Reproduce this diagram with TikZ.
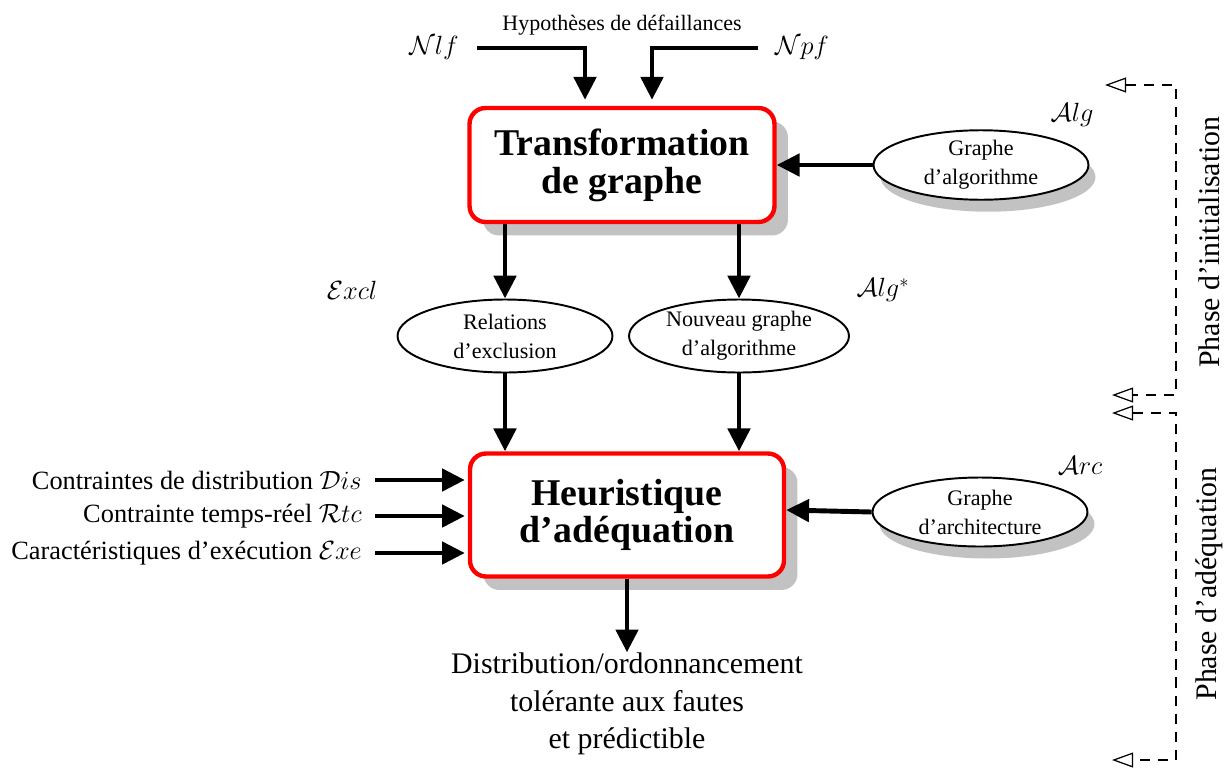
\RequirePackage{fix-cm}
\documentclass[tikz,border=0pt]{standalone}
\usepackage{amsmath}
\usepackage{amssymb}
\usepackage{fontspec}
\setmainfont{Liberation Serif}
\usetikzlibrary{arrows.meta,shapes.geometric,shadows}

\definecolor{ombregris}{gray}{0.76}

\begin{document}
\begin{tikzpicture}[x=0.02cm,y=-0.02cm,
  every node/.style={inner sep=0pt},
  bloc/.style={draw=red, line width=2.5pt, rounded corners=0.32cm, fill=white,
    align=center, font=\fontsize{21.5}{21.5}\selectfont\bfseries,
    general shadow={fill=ombregris, shadow xshift=0.27cm, shadow yshift=-0.27cm}},
  donnee/.style={ellipse, draw, line width=1.1pt, fill=white, minimum width=4.3cm,
    minimum height=1.46cm, align=center, font=\fontsize{12.6}{16.5}\selectfont},
  ombre/.style={general shadow={fill=ombregris, shadow xshift=0.14cm, shadow yshift=-0.24cm}},
  fleche/.style={line width=2.8pt, -{Triangle[length=13pt,width=12.5pt]}},
  phase/.style={line width=1.3pt, dash pattern=on 5.8pt off 4.5pt,
    {Triangle[open,line width=0.7pt,length=12pt,width=8.5pt]}-{Triangle[open,line width=0.7pt,length=12pt,width=8.5pt]}},
  lbl/.style={font=\fontsize{15}{18}\selectfont},
  grand/.style={font=\fontsize{17}{21.5}\selectfont}]

\useasboundingbox (0,0) rectangle (1226,771);

% les deux blocs
\node[bloc, minimum width=6.1cm, minimum height=2.28cm] (trans) at (622,165) {Transformation\\de graphe};
\node[bloc, minimum width=6.28cm, minimum height=2.46cm] (heur) at (627,515) {Heuristique\\d'ad\'equation};

% les graphes
\node[donnee, ombre, minimum height=1.38cm] (alg) at (981,165) {Graphe\\d'algorithme};
\node[donnee] (excl) at (505,336) {Relations\\d'exclusion};
\node[donnee, minimum width=4.4cm] (nalg) at (739,336) {Nouveau graphe\\d'algorithme};
\node[donnee, ombre, minimum height=1.38cm] (arc) at (980,512) {Graphe\\d'architecture};

\node[lbl] (lalg) at (1072,115) {$\mathcal{A}lg$};
\node[lbl] (larc) at (1080,465) {$\mathcal{A}rc$};
\node[lbl] (lexcl) at (352,290) {$\mathcal{E}xcl$};
\node[lbl] (lnalg) at (883,290) {$\mathcal{A}lg^*$};

% hypotheses
\node[font=\fontsize{12.5}{15}\selectfont] (hyp) at (622,25) {Hypoth\`eses de d\'efaillances};
\node[lbl] (nlf) at (434,48) {$\mathcal{N}lf$};
\node[lbl] (npf) at (802,48) {$\mathcal{N}pf$};

\draw[fleche, shorten <=0.36cm, shorten >=0.12cm] (nlf.east) -| ([xshift=-0.74cm]trans.north);
\draw[fleche, shorten <=0.34cm, shorten >=0.12cm] (npf.west) -| ([xshift=0.6cm]trans.north);

% contraintes
\node[lbl, anchor=east] (dis) at (362,480) {Contraintes de distribution $\mathcal{D}is$};
\node[lbl, anchor=east] (rtc) at (362,516) {Contrainte temps-r\'eel $\mathcal{R}tc$};
\node[lbl, anchor=east] (exe) at (362,553) {Caract\'eristiques d'ex\'ecution $\mathcal{E}xe$};

\foreach \c in {dis,rtc,exe}
    \draw[fleche, shorten <=0.26cm, shorten >=0.06cm] (\c.east) -- (\c.east -| heur.west);

% fleches
\draw[fleche] (alg.west) -- (alg.west -| trans.east);
\draw[fleche] (trans.south -| excl.north) -- (excl.north);
\draw[fleche] (trans.south -| nalg.north) -- (nalg.north);
\draw[fleche] (excl.south) -- (excl.south |- heur.north);
\draw[fleche] (nalg.south) -- (nalg.south |- heur.north);
\draw[fleche] (arc.west) -- ([yshift=0.1cm]heur.east);

% sortie
\node[grand, align=center] (sortie) at (627,704) {Distribution/ordonnancement\\tol\'erante aux fautes\\et pr\'edictible};
\draw[fleche] (heur.south -| sortie.north) -- (sortie.north);

% phases
\coordinate (p1h) at (1105,85);
\coordinate (p1b) at (1112,395);
\coordinate (p2h) at (1112,413);
\coordinate (p2b) at (1112,760);
\draw[phase] (p1h) -- ++(71,0) |- (p1b);
\draw[phase] (p2h) -- ++(64,0) |- (p2b);

\node[grand, rotate=90] (pinit) at (1209,242) {Phase d'initialisation};
\node[grand, rotate=90] (padeq) at (1209,584) {Phase d'ad\'equation};

\end{tikzpicture}
\end{document}
